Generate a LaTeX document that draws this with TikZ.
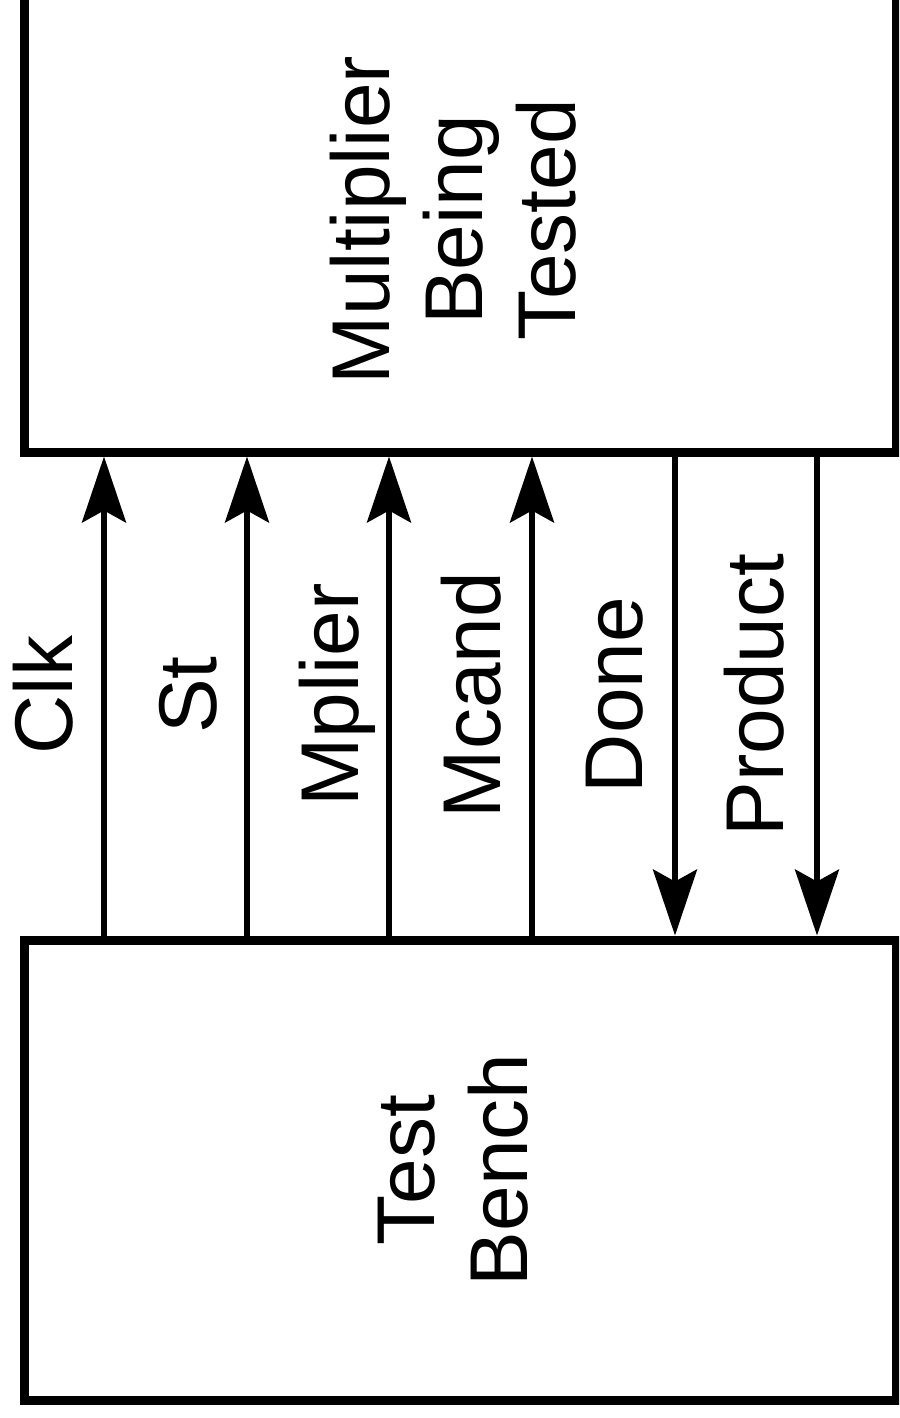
\documentclass[tikz,border=0pt]{standalone}
\usepackage{fontspec}
\setmainfont{Liberation Sans}
\usetikzlibrary{arrows.meta}
\begin{document}
\begin{tikzpicture}[x=0.5pt,y=-0.5pt,
  block/.style={draw, line width=4.5pt, minimum width=436pt, inner sep=0pt},
  btext/.style={rotate=90, align=center, inner sep=0pt,
    font=\fontsize{41}{46.5}\selectfont},
  sig/.style={rotate=90, anchor=base, inner sep=0pt,
    font=\fontsize{41}{46.5}\selectfont},
  wire/.style={line width=2.6pt,
    -{Stealth[length=33pt,width=22pt,inset=6pt]}}]
\useasboundingbox (0,0) rectangle (899,1418);
\fill[white] (0,0) rectangle (899,1418);
\clip (0,0) rectangle (899,1418);

% the two blocks
\node[block, minimum height=232pt] (dut) at (460,220) {};
\node[block, minimum height=230pt] (tb) at (460,1170) {};
\node[btext] (duttext) at (453,220) {Multiplier\\Being\\Tested};
\node[btext] (tbtext) at (453,1170) {Test\\Bench};

% x positions of the signal wires
\coordinate (wa) at (104,0);
\coordinate (wb) at (247,0);
\coordinate (wc) at (389,0);
\coordinate (wd) at (532,0);
\coordinate (we) at (675,0);
\coordinate (wf) at (817,0);

% inputs to the multiplier
\draw[wire] (tb.north -| wa) -- (dut.south -| wa);
\draw[wire] (tb.north -| wb) -- (dut.south -| wb);
\draw[wire] (tb.north -| wc) -- (dut.south -| wc);
\draw[wire] (tb.north -| wd) -- (dut.south -| wd);
% outputs back to the test bench
\draw[wire] (dut.south -| we) -- (tb.north -| we);
\draw[wire] (dut.south -| wf) -- (tb.north -| wf);

% signal names
\node[sig] (lclk) at (72,695) {Clk};
\node[sig] (lst) at (216,695) {St};
\node[sig] (lmplier) at (358,695) {Mplier};
\node[sig] (lmcand) at (500,695) {Mcand};
\node[sig] (ldone) at (642,695) {Done};
\node[sig] (lproduct) at (783,695) {Product};
\end{tikzpicture}
\end{document}
